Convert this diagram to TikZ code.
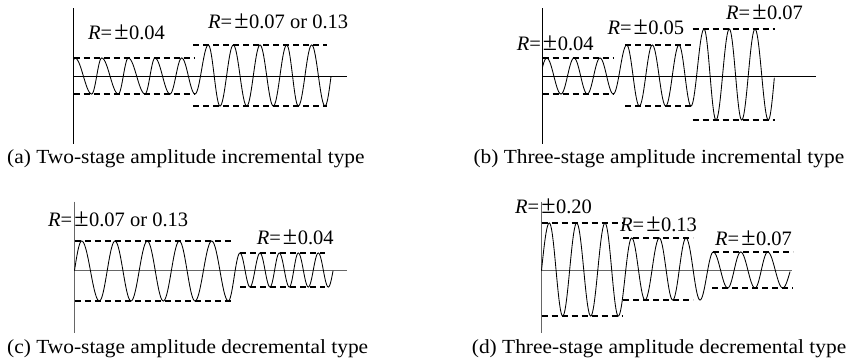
\documentclass[tikz,border=0pt]{standalone}
\usepackage{fontspec}
\setmainfont{Liberation Serif}
\newfontfamily\capfont[FakeStretch=1.07]{Liberation Serif}
% half waves between successive extrema
\newcommand\wavethrough[3]{%
  \foreach \xb/\yb [remember=\xb as \xa (initially #1), remember=\yb as \ya (initially #2)] in {#3}{%
    \draw[wave] plot[domain=0:180,samples=19,variable=\t]
      ({\xa+(\xb-\xa)*\t/180},{(\ya+\yb)/2+(\ya-\yb)/2*cos(\t)});
  }}
% quarter wave from centre (#1,#2) to extremum (#3,#4)
\newcommand\qup[4]{\draw[wave] plot[domain=0:90,samples=10,variable=\t]
      ({#1+(#3-#1)*\t/90},{#2+(#4-#2)*sin(\t)});}
% quarter wave from extremum (#1,#2) to centre (#3,#4)
\newcommand\qdown[4]{\draw[wave] plot[domain=0:90,samples=10,variable=\t]
      ({#1+(#3-#1)*\t/90},{#4+(#2-#4)*cos(\t)});}
\newcommand\Rlab[1]{\textit{R}=\hspace{2pt}{\fontsize{26}{26}\selectfont ±}\hspace{0.5pt}#1}
\begin{document}
\begin{tikzpicture}[x=1pt,y=-1pt,
  wave/.style={line width=0.85pt,line cap=round},
  lvl/.style={line width=1.8pt,dash pattern=on 6pt off 4pt},
  axis/.style={line width=1pt},
  gaxis/.style={line width=1.1pt,draw=black!60},
  lab/.style={anchor=base west,inner sep=0pt,font=\fontsize{20.5}{24}\selectfont},
  captext/.style={anchor=base west,inner sep=0pt,font=\capfont\fontsize{20}{24}\selectfont}]
\useasboundingbox (0,0) rectangle (846,360);

% ---------------- (a)
\draw[axis] (73.5,8) -- (73.5,144);
\draw[axis] (73.5,76.5) -- (347,76.5);
\draw[lvl] (73.5,58) -- (195,58);
\draw[lvl] (73.5,94) -- (195,94);
\draw[lvl] (193,45) -- (327,45);
\draw[lvl] (193,106) -- (327,106);
\draw[wave] plot[domain=-30:0,samples=6,variable=\t] ({75+1.5*\t/30},{76.5-18.5*cos(\t)});
\wavethrough{75}{58}{91.7/94,101.7/58,118.3/94,128.3/58,145/94,155/58,170/94,181.7/58,195/94,
  208.3/45,220/106,233.3/45,246.7/106,260/45,273.3/106,286.7/45,298.3/106,311.7/45,325/106}
\qdown{325}{106}{331}{76.5}
\node[lab] (ra1) at (88,39) {\Rlab{0.04}};
\node[lab] (ra2) at (208,28) {\Rlab{0.07} or 0.13};
\node[captext] (capa) at (7,163) {(a) Two-stage amplitude incremental type};

% ---------------- (b)
\draw[axis] (542.5,8) -- (542.5,144);
\draw[axis] (542.5,76.5) -- (816,76.5);
\draw[lvl] (542.5,58) -- (613.3,58);
\draw[lvl] (542.5,94) -- (613.3,94);
\draw[lvl] (625,45) -- (693.3,45);
\draw[lvl] (625,106) -- (693.3,106);
\draw[lvl] (692.7,29) -- (775,29);
\draw[lvl] (692.7,120) -- (775,120);
\draw[wave] plot[domain=-60:0,samples=8,variable=\t] ({546.7+4.2*\t/60},{76.5-18.5*cos(\t)});
\wavethrough{546.7}{58}{561/94,574/58,587.3/94,600/58,613.3/94,
  626.7/45,639.3/106,652.3/45,665.7/106,679/45,691/106,
  704/29,716/120,729.3/29,741.7/120,755/29,768.3/120}
\qdown{768.3}{120}{774.3}{78}
\node[lab] (rb1) at (516.7,50.7) {\Rlab{0.04}};
\node[lab] (rb2) at (607.3,34) {\Rlab{0.05}};
\node[lab] (rb3) at (726,19.3) {\Rlab{0.07}};
\node[captext] (capb) at (473.3,163) {(b) Three-stage amplitude incremental type};

% ---------------- (c)
\draw[gaxis] (74.5,201.7) -- (74.5,333);
\draw[gaxis] (74.5,270.5) -- (347,270.5);
\draw[lvl] (74.5,241) -- (231.7,241);
\draw[lvl] (74.5,301) -- (231.7,301);
\draw[lvl] (240,253) -- (325,253);
\draw[lvl] (240,287) -- (325,287);
\qup{74.5}{270.5}{81.7}{241}
\wavethrough{81.7}{241}{99.3/301,115/241,131/301,147.3/241,163.3/301,179.3/241,195/301,211.7/241,228.3/301,
  240/253,250/287,260/253,270/287,279.3/253,289.3/287,298.3/253,308.3/287,318.3/253,328.3/287}
\qdown{328.3}{287}{333}{271}
\node[lab] (rc1) at (48,226.7) {\Rlab{0.07} or 0.13};
\node[lab] (rc2) at (256.7,244) {\Rlab{0.04}};
\node[captext] (capc) at (7,353) {(c) Two-stage amplitude decremental type};

% ---------------- (d)
\draw[gaxis] (541.5,201.7) -- (541.5,333);
\draw[gaxis] (541.5,270.5) -- (791.7,270.5);
\draw[lvl] (541.5,223) -- (623.3,223);
\draw[lvl] (541.5,316) -- (623.3,316);
\draw[lvl] (623.3,238) -- (693.3,238);
\draw[lvl] (623.3,300) -- (693.3,300);
\draw[lvl] (713.3,252) -- (793.3,252);
\draw[lvl] (712.3,288) -- (793.3,288);
\qup{541.5}{270.5}{549.3}{223}
\wavethrough{549.3}{223}{562.7/316,576.7/223,590.7/316,605/223,618.3/316,
  631.7/238,645/300,659.3/238,672.7/300,686/238,700/300,
  713.3/252,727.7/288,740.7/252,755/288,767.7/252,782.7/288}
\qdown{782.7}{288}{790}{271.7}
\node[lab] (rd1) at (515,213.3) {\Rlab{0.20}};
\node[lab] (rd2) at (620,231) {\Rlab{0.13}};
\node[lab] (rd3) at (715,245) {\Rlab{0.07}};
\node[captext] (capd) at (471.7,353) {(d) Three-stage amplitude decremental type};
\end{tikzpicture}
\end{document}
